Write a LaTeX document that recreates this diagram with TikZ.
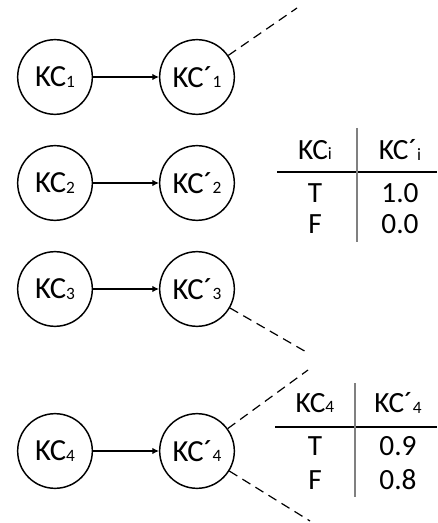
\documentclass[tikz,border=0pt]{standalone}
\usepackage{fontspec}
\setmainfont{Carlito}
\usetikzlibrary{arrows.meta}
\newcommand{\kcsub}[1]{{\fontsize{13}{13}\selectfont\raisebox{-0.5pt}{#1}}}
\begin{document}
\begin{tikzpicture}[x=0.75pt,y=-0.75pt]
      \useasboundingbox (0,0) rectangle (437,523);

      \begin{scope}[every node/.style={circle,draw,line width=1.1pt,minimum size=56pt,inner sep=0pt,font=\fontsize{23}{27}\selectfont}]
        \node (kc1) at (55,77)  {KC\kcsub{1}};
        \node (kc2) at (55,183) {KC\kcsub{2}};
        \node (kc3) at (55,289) {KC\kcsub{3}};
        \node (kc4) at (55,451) {KC\kcsub{4}};
        \node (kp1) at (197,77)  {KC´\kcsub{1}};
        \node (kp2) at (197,183) {KC´\kcsub{2}};
        \node (kp3) at (197,289) {KC´\kcsub{3}};
        \node (kp4) at (197,451) {KC´\kcsub{4}};
      \end{scope}

      \begin{scope}[every edge/.style={draw,line width=1.1pt,-{Latex[length=5pt,width=5pt]}}]
        \path (kc1) edge (kp1);
        \path (kc2) edge (kp2);
        \path (kc3) edge (kp3);
        \path (kc4) edge (kp4);
      \end{scope}

      % free ends of the dashed lines
      \coordinate (d1) at (297,8);
      \coordinate (d3) at (308,353);
      \coordinate (d4) at (308,370);
      \coordinate (d5) at (310,521);

      \begin{scope}[every edge/.style={draw,line width=0.9pt,dash pattern=on 7pt off 4.5pt}]
        \path (kp1) edge (d1);
        \path (kp3) edge (d3);
        \path (kp4) edge (d4);
        \path (kp4) edge (d5);
      \end{scope}

      % tables
      \coordinate (h1a) at (277,172);
      \coordinate (h1b) at (437,172);
      \coordinate (v1a) at (357,128);
      \coordinate (v1b) at (357,242);
      \coordinate (h2a) at (275,427);
      \coordinate (h2b) at (437,427);
      \coordinate (v2a) at (355,383);
      \coordinate (v2b) at (355,497);
      \draw[line width=0.9pt] (h1a) -- (h1b);
      \draw[line width=0.9pt] (h2a) -- (h2b);
      \draw[line width=0.9pt,gray] (v1a) -- (v1b);
      \draw[line width=0.9pt,gray] (v2a) -- (v2b);

      \begin{scope}[every node/.style={font=\fontsize{22}{26}\selectfont,inner sep=0pt}]
        \node (t1h1) at (315,150) {KC\kcsub{i}};
        \node (t1h2) at (400,150) {KC´\kcsub{i}};
        \node (t1a1) at (315,193) {T};
        \node (t1a2) at (400,193) {1.0};
        \node (t1b1) at (315,224) {F};
        \node (t1b2) at (400,224) {0.0};
        \node (t2h1) at (315,403) {KC\kcsub{4}};
        \node (t2h2) at (398,403) {KC´\kcsub{4}};
        \node (t2a1) at (315,446) {T};
        \node (t2a2) at (398,446) {0.9};
        \node (t2b1) at (315,480) {F};
        \node (t2b2) at (398,480) {0.8};
      \end{scope}

    \end{tikzpicture}
\end{document}
